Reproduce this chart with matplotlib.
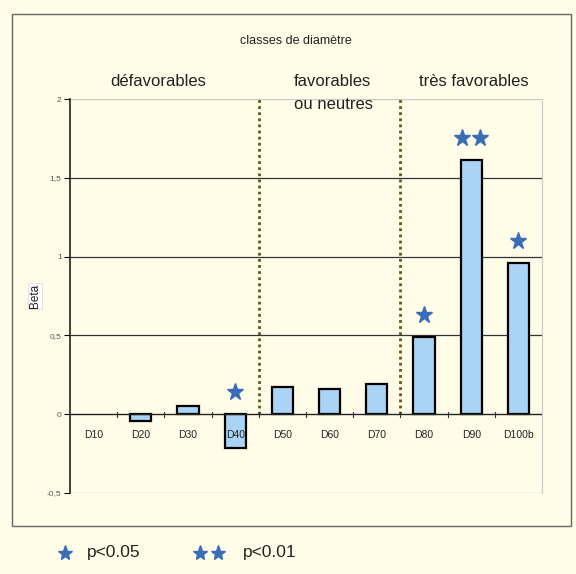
import matplotlib
matplotlib.use("Agg")
import matplotlib.pyplot as plt
import matplotlib.patches as mpatches
import numpy as np

plt.rcParams["font.family"] = ["Liberation Sans", "DejaVu Sans"]

categories = ["D10", "D20", "D30", "D40", "D50", "D60", "D70", "D80", "D90", "D100b"]
beta = [0.0, -0.045, 0.053, -0.215, 0.175, 0.158, 0.19, 0.49, 1.61, 0.96]
stars = [0, 0, 0, 1, 0, 0, 0, 1, 2, 1]
yticks = [-0.5, 0, 0.5, 1, 1.5, 2]
ytick_labels = ["-0,5", "0", "0,5", "1", "1,5", "2"]
groups = ["défavorables", "favorables", "ou neutres", "très favorables"]
separators = [3.5, 6.5]

bg = "#fffde8"
bar_color = "#a9d4f5"
star_color = "#3a6db5"

fig = plt.figure(figsize=(5.76, 5.74), dpi=100, facecolor=bg)
ax = fig.add_axes([70/576, 1-493/574, 472/576, 394/574], facecolor=bg)

x = np.arange(len(categories))
vals = np.array(beta, dtype=float)
mask = vals != 0
ax.bar(x[mask], vals[mask], width=0.45, color=bar_color, edgecolor="black", linewidth=1.6, zorder=3)

ax.set_xlim(-0.5, len(categories) - 0.5)
ax.set_ylim(-0.5, 2)

for yv in yticks:
    if yv in (-0.5, 2):
        ax.axhline(yv, color="#c8c8c8", lw=1.0, zorder=1)
    elif yv != 0:
        ax.axhline(yv, color="#333333", lw=0.9, zorder=1)
ax.axhline(0, color="#222222", lw=1.0, zorder=4)

for s in ["top", "bottom"]:
    ax.spines[s].set_visible(False)
ax.spines["right"].set_color("#c8c8c8")
ax.spines["left"].set_color("#222222")
ax.spines["left"].set_linewidth(1.2)

ax.set_yticks(yticks)
ax.set_yticklabels(ytick_labels, fontsize=6, color="#555555")
ax.tick_params(axis="y", length=4, width=0.8, pad=2)

ax.set_xticks([])
for xi, lab in zip(x, categories):
    ax.text(xi, -0.13, lab, ha="center", va="center", fontsize=7.5, color="#222222", zorder=5)
for b in np.arange(0.5, len(categories) - 0.5 + 1, 1.0):
    ax.plot([b, b], [-0.015, 0.015], color="#333333", lw=0.8, zorder=4)

for sx in separators:
    ax.plot([sx, sx], [0, 2], color="#5c5a10", lw=2.0, linestyle=(0, (1, 1.2)), zorder=2)

for xi, v, n in zip(x, beta, stars):
    if n == 0:
        continue
    yy = max(v, 0) + 0.14
    offs = [0.0] if n == 1 else [-0.19, 0.19]
    for o in offs:
        ax.plot(xi + o, yy, marker="*", ms=12.5, color=star_color, mec=star_color, zorder=5)

ax.set_ylabel("Beta", fontsize=8.5, color="#222222",
              bbox=dict(boxstyle="square,pad=0.1", fc="white", ec="#dddddd", lw=0.6))
ax.yaxis.set_label_coords(-29/472, 0.5)

def fx(px):
    return px / 576
def fy(py):
    return 1 - py / 574

fig.text(fx(296), fy(41), "classes de diamètre", ha="center", va="center", fontsize=9, color="#222222")
fig.text(fx(158), fy(82), groups[0], ha="center", va="center", fontsize=12, color="#222222")
fig.text(fx(332), fy(82), groups[1], ha="center", va="center", fontsize=12, color="#222222")
fig.text(fx(334), fy(105), groups[2], ha="center", va="center", fontsize=12, color="#222222")
fig.text(fx(474), fy(82), groups[3], ha="center", va="center", fontsize=12, color="#222222")

frame = mpatches.Rectangle((fx(12), fy(526)), fx(571) - fx(12), fy(14) - fy(526),
                           transform=fig.transFigure, fill=False, ec="#666666", lw=1.0)
fig.patches.append(frame)

lx = fig.add_axes([0, 0, 1, 1], facecolor="none")
lx.set_xlim(0, 576)
lx.set_ylim(574, 0)
lx.axis("off")
lx.plot(65, 553, marker="*", ms=11, color=star_color)
lx.text(87, 553, "p<0.05", ha="left", va="center", fontsize=12.5, color="#222222")
lx.plot([200, 218], [553, 553], marker="*", ms=11, color=star_color, ls="none")
lx.text(243, 553, "p<0.01", ha="left", va="center", fontsize=12.5, color="#222222")

fig.savefig("out.png", dpi=100, facecolor=bg)
